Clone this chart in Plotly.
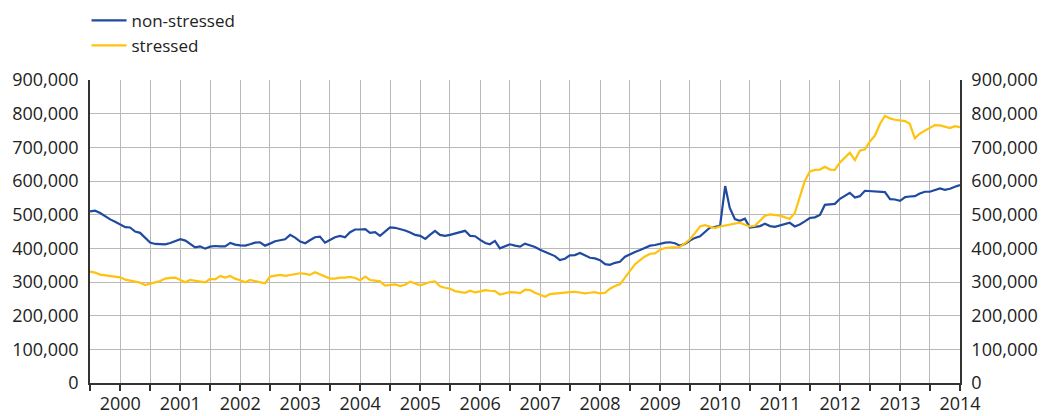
import pandas as pd
import plotly.graph_objects as go

# Monthly observations, Jul 1999 .. Jan 2014
start_month = "1999-07-01"
n_months = 175

non_stressed = [
    510, 512, 505, 495, 486, 479, 472, 463, 462, 450,
    446, 432, 417, 413, 412, 412, 416, 422, 427, 423,
    414, 403, 406, 399, 405, 407, 406, 406, 416, 411,
    409, 408, 412, 417, 418, 408, 414, 421, 424, 427,
    440, 432, 420, 415, 424, 433, 435, 417, 425, 433,
    437, 433, 448, 456, 456, 457, 446, 448, 437, 450,
    462, 461, 458, 453, 447, 440, 437, 428, 440, 452,
    440, 437, 440, 444, 447, 452, 437, 436, 425, 416,
    412, 422, 400, 407, 412, 408, 405, 414, 409, 404,
    396, 389, 384, 377, 365, 369, 379, 380, 386, 378,
    372, 370, 365, 353, 351, 357, 360, 375, 383, 389,
    395, 402, 408, 410, 414, 417, 418, 415, 408, 413,
    423, 431, 436, 450, 462, 464, 467, 585, 520, 487,
    482, 488, 462, 464, 466, 473, 466, 464, 468, 472,
    476, 465, 471, 480, 490, 492, 499, 529, 530, 532,
    547, 557, 565, 551, 555, 571, 570, 570, 570, 567,
    546, 545, 541, 552, 554, 555, 563, 568, 568, 572,
    578, 574, 577, 583, 588,
]

stressed = [
    331, 328, 322, 320, 319, 318, 314, 307, 304, 303,
    298, 291, 294, 299, 303, 310, 312, 313, 306, 299,
    306, 304, 303, 299, 309, 308, 318, 313, 318, 310,
    305, 299, 306, 303, 300, 296, 316, 318, 321, 318,
    320, 323, 326, 324, 321, 329, 323, 315, 310, 310,
    313, 313, 315, 312, 305, 316, 306, 304, 302, 289,
    291, 293, 288, 292, 301, 296, 290, 295, 300, 302,
    287, 283, 280, 273, 270, 268, 274, 269, 272, 276,
    274, 273, 263, 267, 270, 269, 267, 277, 276, 268,
    261, 256, 264, 266, 268, 270, 270, 271, 269, 266,
    268, 270, 266, 268, 280, 288, 293, 313, 335, 353,
    365, 376, 384, 385, 396, 401, 402, 402, 404, 415,
    427, 445, 465, 469, 464, 460, 465, 468, 472, 474,
    476, 470, 465, 467, 482, 497, 501, 500, 497, 492,
    487, 505, 555, 600, 628, 633, 634, 642, 634, 633,
    655, 670, 684, 662, 690, 694, 717, 735, 770, 793,
    786, 782, 780, 778, 770, 727, 741, 749, 757, 766,
    765, 760, 757, 763, 760,
]

years = list(range(2000, 2015))
y_ticks = [0, 100000, 200000, 300000, 400000, 500000, 600000, 700000, 800000, 900000]

dates = pd.date_range(start_month, periods=n_months, freq="MS")
ns_vals = [v * 1000 for v in non_stressed]
st_vals = [v * 1000 for v in stressed]

# tick positions every half-year, labels only at January
tick_dates = pd.date_range("1999-07-01", "2014-01-01", freq="6MS")
tick_text = [str(d.year) if d.month == 1 else "" for d in tick_dates]

BLUE = "#1f4aa0"
YELLOW = "#ffc20e"
GRID = "#b9b9b9"
AXIS = "#333333"
FONT = "Open Sans"

fig = go.Figure()
fig.add_trace(go.Scatter(x=dates, y=ns_vals, mode="lines", name="non-stressed",
                         line=dict(color=BLUE, width=2.2)))
fig.add_trace(go.Scatter(x=dates, y=st_vals, mode="lines", name="stressed",
                         line=dict(color=YELLOW, width=2.2), yaxis="y2"))

yaxis_common = dict(
    range=[0, 900000], tickvals=y_ticks, tickformat=",",
    showline=True, linecolor=AXIS, linewidth=1.5,
    ticks="", ticklabelstandoff=6,
    tickfont=dict(family=FONT, size=18, color="#222222"),
    zeroline=False, fixedrange=True, automargin=False,
)

fig.update_layout(
    width=1041, height=416,
    margin=dict(l=90, r=81, t=80, b=33, autoexpand=False),
    paper_bgcolor="white", plot_bgcolor="white",
    font=dict(family=FONT, color="#222222"),
    showlegend=True,
    legend=dict(x=-0.004, y=1.255, xanchor="left", yanchor="top",
                font=dict(family=FONT, size=17, color="#222222"),
                bgcolor="rgba(0,0,0,0)", tracegroupgap=0, itemwidth=35),
    xaxis=dict(
        range=[pd.Timestamp("1999-07-01"), pd.Timestamp("2014-01-01")],
        tickmode="array", tickvals=tick_dates, ticktext=tick_text,
        showgrid=True, gridcolor=GRID, gridwidth=1,
        showline=True, linecolor=AXIS, linewidth=2,
        ticks="outside", ticklen=6, tickcolor=AXIS, tickwidth=1.5,
        ticklabelstandoff=-3,
        tickfont=dict(family=FONT, size=18, color="#222222"),
        zeroline=False, automargin=False,
    ),
    yaxis=dict(side="left", showgrid=True, gridcolor=GRID, gridwidth=1, **yaxis_common),
    yaxis2=dict(side="right", overlaying="y", showgrid=False, **yaxis_common),
)

# remove the default page margin so the 1041x416 figure fills the window exactly
fig.write_html("out.html",
               config={"displayModeBar": False},
               post_script="document.body.style.margin='0px';document.body.style.overflow='hidden';")
